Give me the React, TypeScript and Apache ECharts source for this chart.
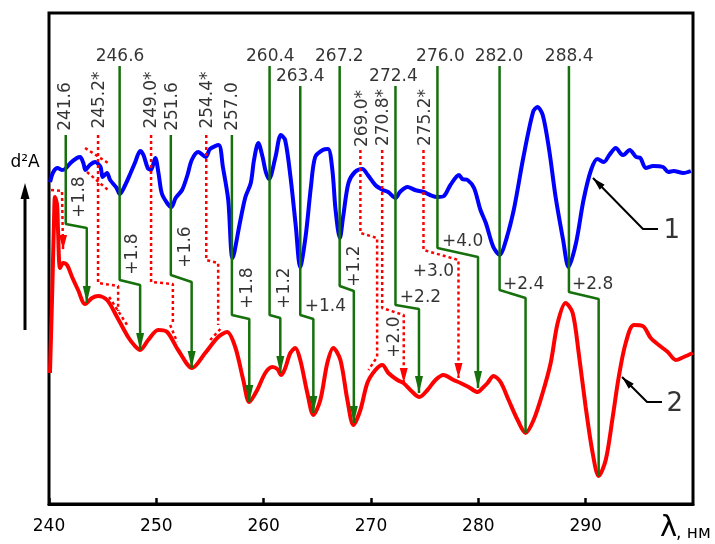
import React, { useEffect, useRef } from 'react';
import * as echarts from 'echarts';

// Curve 1 (blue) and curve 2 (red): second-derivative spectra, arbitrary units
const blueCurve: number[][] = [
  [240.1, 322], [240.4, 332], [240.8, 336], [241.2, 334], [241.5, 335], [242.0, 341], [242.6, 346], [242.9, 347],
  [243.2, 341], [243.4, 334], [243.8, 339], [244.3, 342], [244.8, 337], [245.0, 327], [245.4, 331], [245.7, 324],
  [246.3, 316], [246.6, 310], [247.1, 319], [247.6, 331], [248.0, 341], [248.5, 353], [248.8, 349], [249.2, 336],
  [249.5, 334], [249.9, 346], [250.2, 331], [250.5, 311], [251.0, 301], [251.4, 297], [251.8, 306], [252.4, 314],
  [252.9, 329], [253.3, 344], [253.9, 352], [254.6, 347], [255.0, 355], [255.8, 359], [256.2, 337], [256.7, 304],
  [257.1, 246], [257.8, 282], [258.3, 307], [258.8, 321], [259.1, 344], [259.5, 361], [259.9, 347], [260.2, 332],
  [260.5, 325], [261.1, 347], [261.6, 369], [262.0, 364], [262.5, 327], [263.0, 277], [263.4, 237], [263.9, 267],
  [264.4, 317], [264.8, 347], [265.5, 354], [266.0, 355], [266.4, 334], [266.7, 294], [267.1, 266], [267.4, 287],
  [267.9, 321], [268.5, 332], [269.2, 335], [269.7, 329], [270.4, 319], [271.1, 314], [271.6, 312], [272.3, 306],
  [272.7, 312], [273.4, 317], [274.1, 314], [274.9, 312], [275.5, 309], [276.2, 307], [276.8, 308], [277.4, 319],
  [278.2, 329], [278.5, 325], [279.0, 324], [279.6, 316], [280.2, 294], [280.7, 281], [281.4, 257], [282.0, 249],
  [282.5, 261], [283.3, 294], [284.2, 347], [285.1, 392], [285.5, 397], [286.0, 389], [286.6, 354], [287.2, 307],
  [287.9, 264], [288.4, 237], [289.1, 261], [289.8, 304], [290.5, 334], [291.1, 345], [291.7, 342], [292.2, 349],
  [292.8, 356], [293.3, 350], [293.5, 349], [294.1, 354], [294.7, 347], [295.1, 346], [295.6, 336], [296.3, 338],
  [297.2, 337], [297.7, 332], [298.2, 333], [299.1, 331], [299.8, 333],
];

const redCurve: number[][] = [
  [240.09, 131], [240.28, 204], [240.47, 284], [240.56, 307], [240.75, 299], [240.84, 274], [241.03, 236], [241.31, 241],
  [241.68, 239], [242.15, 227], [242.71, 214], [243.36, 200], [244.01, 206], [244.57, 208], [245.41, 204], [246.34, 187],
  [247.37, 167], [247.93, 159], [248.49, 154], [249.24, 164], [250.17, 174], [251.01, 172], [252.03, 154], [253.34, 136],
  [254.55, 151], [255.76, 167], [256.6, 172], [257.35, 157], [258.1, 124], [258.66, 102], [259.4, 114], [260.15, 131],
  [260.8, 137], [261.27, 135], [261.64, 129], [262.01, 136], [262.48, 151], [262.95, 156], [263.41, 144], [264.07, 111],
  [264.63, 89], [265.28, 104], [265.93, 141], [266.49, 156], [267.15, 144], [267.8, 104], [268.36, 79], [269.01, 94],
  [269.66, 121], [270.41, 134], [271.06, 139], [271.62, 131], [272.46, 124], [273.02, 121], [273.86, 112], [274.51, 107],
  [275.26, 114], [276.01, 124], [276.75, 129], [277.69, 124], [278.34, 121], [279.09, 117], [279.93, 112], [280.49, 117],
  [280.86, 121], [281.42, 128], [282.07, 122], [282.82, 104], [283.66, 84], [284.4, 71], [285.15, 84], [285.99, 111],
  [286.74, 141], [287.39, 181], [288.13, 201], [288.79, 191], [289.35, 151], [290.0, 97], [290.65, 51], [291.21, 28],
  [291.87, 44], [292.52, 87], [293.08, 127], [293.73, 161], [294.48, 179], [295.32, 178], [296.06, 166], [296.81, 159],
  [297.65, 152], [298.4, 144], [299.14, 147], [299.98, 151],
];

// Green band assignments (curve 1 minimum -> shift -> curve 2 minimum)
const greenPaths: number[][][] = [
  [[241.56, 369], [241.56, 280], [243.52, 276], [243.52, 201]],
  [[246.58, 438], [246.58, 224], [248.49, 219], [248.49, 154]],
  [[251.35, 369], [251.35, 229], [253.29, 222], [253.29, 136]],
  [[257.04, 369], [257.04, 189], [258.66, 185], [258.66, 102]],
  [[260.55, 438], [260.55, 189], [261.55, 186], [261.55, 131]],
  [[263.41, 418], [263.41, 189], [264.63, 185], [264.63, 91]],
  [[267.08, 438], [267.08, 218], [268.4, 213], [268.4, 81]],
  [[272.28, 418], [272.28, 199], [274.47, 195], [274.47, 111]],
  [[276.19, 438], [276.19, 256], [279.97, 247], [279.97, 116]],
  [[281.98, 438], [281.98, 214], [284.4, 206], [284.4, 71]],
  [[288.44, 438], [288.44, 212], [291.21, 205], [291.21, 28]],
];
const greenArrow = [true, true, true, true, true, true, true, true, true, false, false];

// Red dotted assignments (shoulders marked *)
const redPaths: number[][][] = [
  [[240.19, 314], [241.21, 313], [241.31, 254]],
  [[244.57, 369], [244.57, 221], [246.44, 218], [246.44, 193]],
  [[243.36, 356], [245.5, 341]],
  [[243.54, 332], [245.5, 314]],
  [[245.6, 207], [247.28, 179]],
  [[249.51, 369], [249.51, 222], [251.54, 220], [251.54, 179]],
  [[251.29, 179], [251.94, 162]],
  [[254.65, 369], [254.65, 244], [255.76, 241], [255.76, 179]],
  [[255.02, 164], [256.14, 177]],
  [[269.01, 354], [269.01, 271], [270.57, 266], [270.57, 147], [269.76, 134]],
  [[271.04, 354], [271.04, 196], [273.05, 189], [273.05, 121]],
  [[274.89, 354], [274.89, 254], [278.15, 244], [278.15, 126]],
];
const redArrow = [true, false, false, false, false, false, false, false, false, false, true, true];

// Curve number call-outs
const leaderPaths: number[][][] = [
  [[296.74, 275], [295.34, 275], [290.68, 326]],
  [[297.11, 102], [295.72, 102], [293.39, 127]],
];
const curveNames: [number, number, string][] = [
  [298.02, 275, '1'],
  [298.3, 102, '2'],
];

// Wavelength labels (nm)
const topLabels: [number, number, string][] = [
  [246.62, 449.5, '246.6'], [260.62, 449.5, '260.4'], [267.05, 449.5, '267.2'],
  [276.47, 449.5, '276.0'], [281.93, 449.5, '282.0'], [288.46, 449.5, '288.4'],
  [263.41, 429.5, '263.4'], [272.09, 429.5, '272.4'],
];
const verticalLabels: [number, number, string][] = [
  [241.4, 397.5, '241.6'], [244.57, 404, '245.2*'], [249.42, 404, '249.0*'],
  [251.38, 397.5, '251.6'], [254.6, 404, '254.4*'], [256.98, 397.5, '257.0'],
  [269.1, 385.5, '269.0*'], [271.01, 386.5, '270.8*'], [274.93, 386.5, '275.2*'],
];
// Shift values (nm)
const shiftVertical: [number, number, string][] = [
  [242.66, 307, '+1.8'], [247.65, 250, '+1.8'], [252.59, 257, '+1.6'], [258.38, 216, '+1.8'],
  [261.83, 216, '+1.2'], [268.36, 238, '+1.2'], [272.09, 167, '+2.0'],
];
const shiftHorizontal: [number, number, string][] = [
  [265.75, 199.5, '+1.4'], [274.61, 208.5, '+2.2'], [278.53, 264.5, '+4.0'],
  [284.22, 221.5, '+2.4'], [290.65, 221.5, '+2.8'], [275.82, 234.5, '+3.0'],
];

const xTicks = { min: 240, max: 300, interval: 10 };

const FONT = 'DejaVu Sans';
const GREEN = '#16700c';
const DOWN_TRI = 'path://M0,0L10,0L5,20Z';

export default function App() {
  const ref = useRef<HTMLDivElement>(null);
  useEffect(() => {
    const chart = echarts.init(ref.current!, null, { renderer: 'svg' });

    const pathSeries = (paths: number[][][], arrows: boolean[], color: string, dashed: boolean) =>
      paths.map((p, i) => ({
        type: 'line',
        silent: true,
        z: 4,
        showSymbol: true,
        symbol: 'none',
        lineStyle: { color, width: dashed ? 2.5 : 2.5, type: dashed ? [3, 3] : 'solid', cap: 'butt' },
        itemStyle: { color },
        data: p.map((pt, j) =>
          arrows[i] && j === p.length - 1
            ? {
                value: pt,
                symbol: DOWN_TRI,
                symbolSize: dashed ? [8, 15] : [8, 17],
                symbolOffset: [0, dashed ? -7.5 : -8.5],
                itemStyle: { color },
              }
            : { value: pt }
        ),
      }));

    const labelSeries = (items: [number, number, string][], rotate: number, size: number) => ({
      type: 'scatter',
      silent: true,
      z: 10,
      symbol: 'circle',
      symbolSize: 1,
      itemStyle: { color: 'rgba(0,0,0,0)' },
      label: {
        show: true,
        position: 'inside',
        formatter: '{b}',
        rotate,
        color: '#000',
        fontSize: size,
        fontFamily: FONT,
      },
      data: items.map((d) => ({ name: d[2], value: [d[0], d[1]] })),
    });

    const leaderSeries = leaderPaths.map((p) => ({
      type: 'line',
      silent: true,
      z: 6,
      showSymbol: true,
      symbol: 'none',
      lineStyle: { color: '#000', width: 2 },
      itemStyle: { color: '#000' },
      data: p.map((pt, j) =>
        j === p.length - 1
          ? {
              value: pt,
              symbol: DOWN_TRI,
              symbolSize: [7, 13],
              symbolRotate: 225,
              symbolOffset: [4.6, 4.6],
              itemStyle: { color: '#000' },
            }
          : { value: pt }
      ),
    }));

    const option: any = {
      animation: false,
      textStyle: { fontFamily: FONT },
      grid: {
        left: 49,
        top: 13,
        right: 22,
        bottom: 40,
        show: true,
        borderColor: '#000',
        borderWidth: 3,
        backgroundColor: 'transparent',
      },
      xAxis: {
        type: 'value',
        min: xTicks.min,
        max: xTicks.max,
        interval: xTicks.interval,
        axisLine: { show: true, lineStyle: { color: '#000', width: 3 } },
        axisTick: { show: true, inside: true, length: 6, lineStyle: { color: '#000', width: 2.5 } },
        axisLabel: {
          color: '#000',
          fontSize: 17,
          fontFamily: FONT,
          margin: 12,
          showMaxLabel: false,
        },
        splitLine: { show: false },
      },
      yAxis: {
        type: 'value',
        min: 0,
        max: 491,
        axisLine: { show: false },
        axisTick: { show: false },
        axisLabel: { show: false },
        splitLine: { show: false },
      },
      graphic: [
        {
          type: 'text',
          x: 25,
          y: 161,
          style: { text: 'd²A', fontSize: 17, fontFamily: FONT, fill: '#000', align: 'center', verticalAlign: 'middle' },
        },
        { type: 'line', shape: { x1: 25, y1: 330, x2: 25, y2: 196 }, style: { stroke: '#000', lineWidth: 3 } },
        { type: 'polygon', shape: { points: [[25, 183], [20.5, 199], [29.5, 199]] }, style: { fill: '#000' } },
        {
          type: 'text',
          x: 660,
          y: 540,
          style: { text: 'λ', fontSize: 29, fontFamily: FONT, fill: '#000', align: 'left', verticalAlign: 'bottom' },
        },
        {
          type: 'text',
          x: 676,
          y: 540,
          style: { text: ', нм', fontSize: 17, fontFamily: FONT, fill: '#000', align: 'left', verticalAlign: 'bottom' },
        },
      ],
      series: [
        {
          type: 'line',
          name: '1',
          data: blueCurve,
          smooth: 0.3,
          symbol: 'none',
          silent: true,
          z: 3,
          lineStyle: { color: '#0000ff', width: 4 },
        },
        {
          type: 'line',
          name: '2',
          data: redCurve,
          smooth: 0.3,
          symbol: 'none',
          silent: true,
          z: 3,
          lineStyle: { color: '#ff0000', width: 4 },
        },
        ...pathSeries(greenPaths, greenArrow, GREEN, false),
        ...pathSeries(redPaths, redArrow, '#ff0000', true),
        ...leaderSeries,
        labelSeries(topLabels, 0, 17),
        labelSeries(verticalLabels, 90, 17),
        labelSeries(shiftVertical, 90, 17),
        labelSeries(shiftHorizontal, 0, 17),
        labelSeries(curveNames, 0, 26),
      ],
    };
    chart.setOption(option);
    return () => chart.dispose();
  }, []);
  return <div ref={ref} style={{ position: 'fixed', left: 0, top: 0, width: 715, height: 544 }} />;
}
